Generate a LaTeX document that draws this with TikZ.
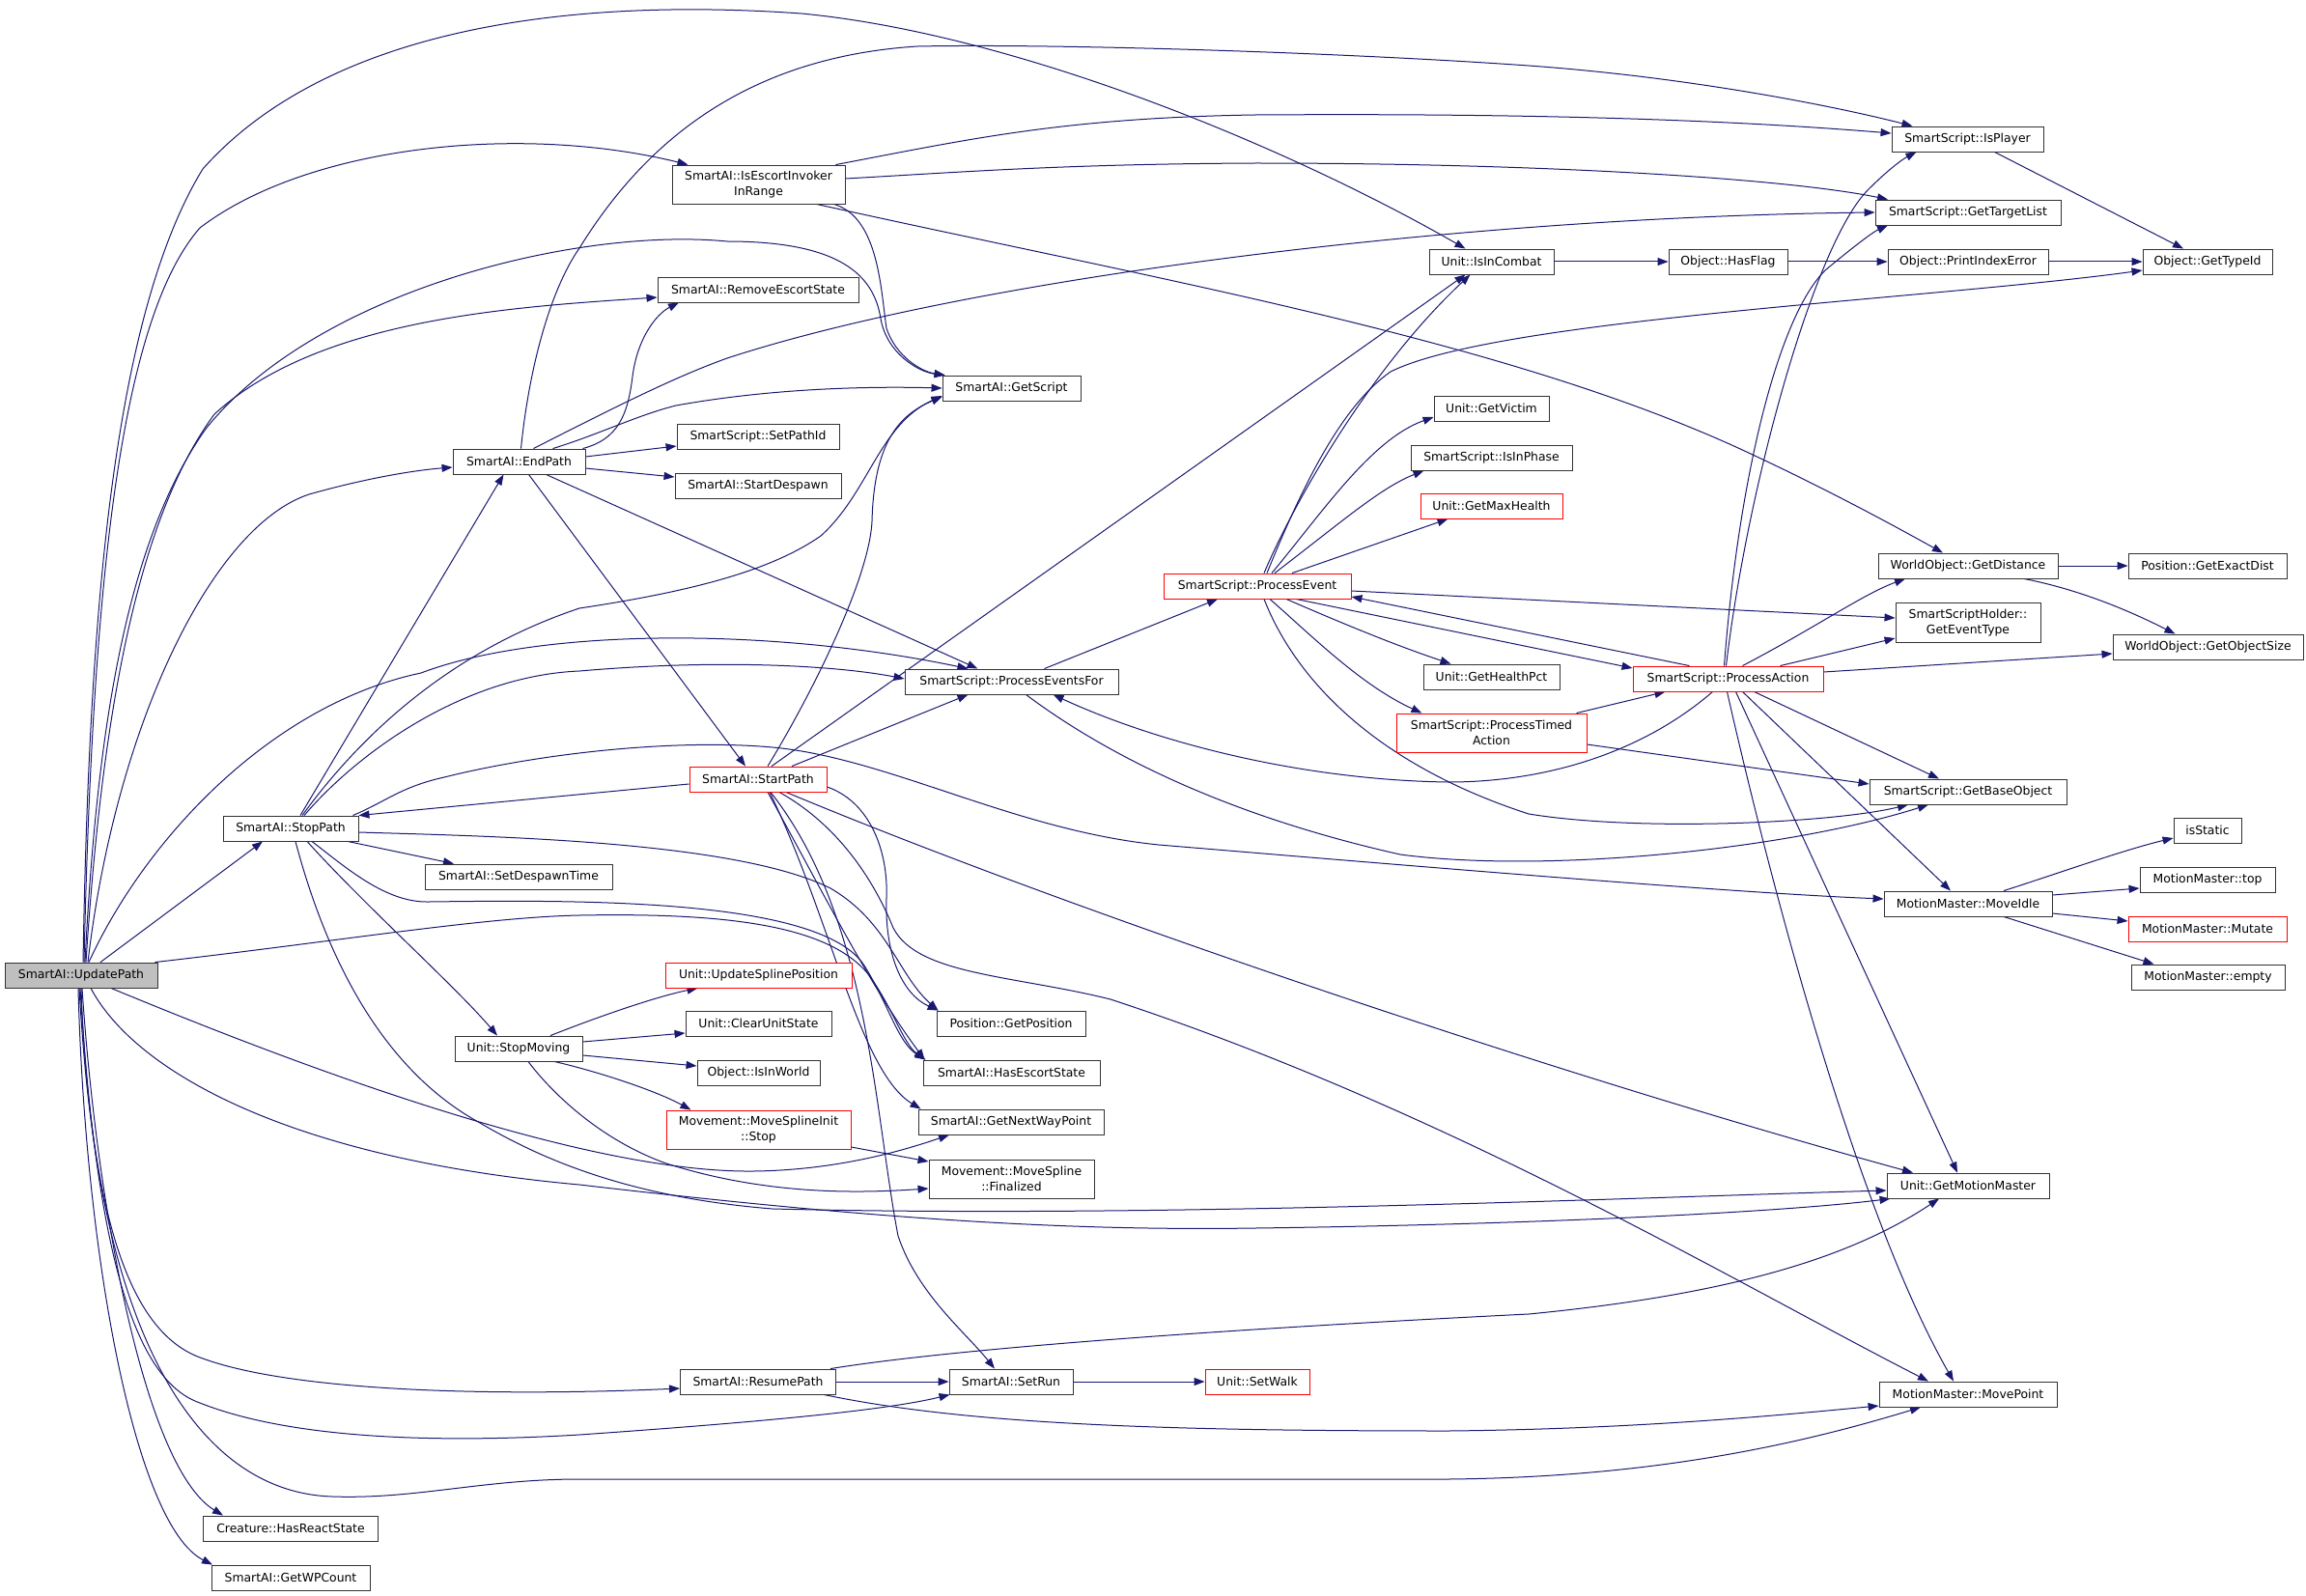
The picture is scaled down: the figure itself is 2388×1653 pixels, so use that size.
\documentclass[tikz,border=0pt]{standalone}
\usepackage{fontspec}
\setmainfont{DejaVu Sans}
\usetikzlibrary{arrows.meta}
\definecolor{edgeblue}{HTML}{191970}
\definecolor{updgray}{HTML}{BFBFBF}
\definecolor{nodered}{HTML}{FF0000}
\pgfdeclarelayer{bgl}
\pgfdeclarelayer{edges}
\pgfsetlayers{bgl,edges,main}
\tikzset{
  fn/.style={draw=black!80, line width=0.9pt, fill=white, inner sep=0pt, minimum height=26pt, align=center, font=\fontsize{12.4}{15.4}\selectfont},
  fnr/.style={fn, draw=nodered},
  e/.style={draw=edgeblue, line width=1pt, -{Triangle[length=11pt,width=8pt]}}
}
\begin{document}
\begin{tikzpicture}[x=1pt,y=-1pt]
\useasboundingbox (0,0) rectangle (2388,1653);
\begin{pgfonlayer}{bgl}
\fill[white] (0,0) rectangle (2388,1653);
\end{pgfonlayer}
% nodes
\node[fn, fill=updgray, minimum width=158pt] (upd) at (84,1010) {SmartAI::UpdatePath};
\node[fn, minimum width=140pt] (stop) at (301,858) {SmartAI::StopPath};
\node[fn, minimum width=137pt] (endp) at (537.5,478) {SmartAI::EndPath};
\node[fn, minimum width=194pt] (despT) at (537,908) {SmartAI::SetDespawnTime};
\node[fn, minimum width=132pt] (stopmv) at (537,1086) {Unit::StopMoving};
\node[fn, minimum width=181pt] (hasreact) at (301,1583) {Creature::HasReactState};
\node[fn, minimum width=164pt] (wpcount) at (301,1634) {SmartAI::GetWPCount};
\node[fn, minimum width=179pt, minimum height=40pt] (iseir) at (785.5,191) {SmartAI::IsEscortInvoker\\InRange};
\node[fn, minimum width=208pt] (remesc) at (785,300) {SmartAI::RemoveEscortState};
\node[fn, minimum width=168pt] (setpath) at (785,452) {SmartScript::SetPathId};
\node[fn, minimum width=172pt] (startdesp) at (785,503) {SmartAI::StartDespawn};
\node[fnr, minimum width=142pt] (startpath) at (785,807) {SmartAI::StartPath};
\node[fnr, minimum width=193pt] (updspline) at (785.5,1010) {Unit::UpdateSplinePosition};
\node[fn, minimum width=151pt] (clearus) at (785.5,1060) {Unit::ClearUnitState};
\node[fn, minimum width=127pt] (isinworld) at (785.5,1111) {Object::IsInWorld};
\node[fnr, minimum width=191pt, minimum height=40pt] (msistop) at (785.5,1170) {Movement::MoveSplineInit\\::Stop};
\node[fn, minimum width=161pt] (resume) at (785,1431) {SmartAI::ResumePath};
\node[fn, minimum width=143pt] (getscript) at (1047.5,402) {SmartAI::GetScript};
\node[fn, minimum width=221pt] (pef) at (1047.5,706) {SmartScript::ProcessEventsFor};
\node[fn, minimum width=154pt] (getpos) at (1047,1060) {Position::GetPosition};
\node[fn, minimum width=183pt] (hasesc) at (1047.5,1111) {SmartAI::HasEscortState};
\node[fn, minimum width=192pt] (nextwp) at (1047,1162) {SmartAI::GetNextWayPoint};
\node[fn, minimum width=171pt, minimum height=40pt] (finalized) at (1047.5,1221) {Movement::MoveSpline\\::Finalized};
\node[fn, minimum width=128pt] (setrun) at (1047,1431) {SmartAI::SetRun};
\node[fnr, minimum width=194pt] (procev) at (1302,607) {SmartScript::ProcessEvent};
\node[fnr, minimum width=108pt] (setwalk) at (1302,1431) {Unit::SetWalk};
\node[fn, minimum width=129pt] (isincombat) at (1544.5,271) {Unit::IsInCombat};
\node[fn, minimum width=119pt] (getvictim) at (1544.5,423) {Unit::GetVictim};
\node[fn, minimum width=167pt] (isinphase) at (1544.5,474) {SmartScript::IsInPhase};
\node[fnr, minimum width=147pt] (getmaxh) at (1544.5,524) {Unit::GetMaxHealth};
\node[fn, minimum width=141pt] (gethp) at (1544.5,701) {Unit::GetHealthPct};
\node[fnr, minimum width=197pt, minimum height=40pt] (ptimed) at (1544.5,759) {SmartScript::ProcessTimed\\Action};
\node[fn, minimum width=123pt] (hasflag) at (1789.5,271) {Object::HasFlag};
\node[fnr, minimum width=197pt] (procact) at (1789.5,703) {SmartScript::ProcessAction};
\node[fn, minimum width=157pt] (isplayer) at (2037.5,144) {SmartScript::IsPlayer};
\node[fn, minimum width=192pt] (gettl) at (2038,220) {SmartScript::GetTargetList};
\node[fn, minimum width=166pt] (printie) at (2038,271) {Object::PrintIndexError};
\node[fn, minimum width=186pt] (getdist) at (2038,586) {WorldObject::GetDistance};
\node[fn, minimum width=150pt, minimum height=41pt] (getevt) at (2038,645) {SmartScriptHolder::\\GetEventType};
\node[fn, minimum width=204pt] (getbase) at (2038,820) {SmartScript::GetBaseObject};
\node[fn, minimum width=174pt] (moveidle) at (2038,936) {MotionMaster::MoveIdle};
\node[fn, minimum width=168pt] (getmm) at (2038,1228) {Unit::GetMotionMaster};
\node[fn, minimum width=184pt] (movepoint) at (2038,1444) {MotionMaster::MovePoint};
\node[fn, minimum width=134pt] (gettypeid) at (2286,271) {Object::GetTypeId};
\node[fn, minimum width=164pt] (exactdist) at (2286,586) {Position::GetExactDist};
\node[fn, minimum width=197pt] (objsize) at (2286.5,670) {WorldObject::GetObjectSize};
\node[fn, minimum width=70pt] (isstatic) at (2286,860) {isStatic};
\node[fn, minimum width=140pt] (mmtop) at (2286,911) {MotionMaster::top};
\node[fnr, minimum width=164pt] (mutate) at (2286,962) {MotionMaster::Mutate};
\node[fn, minimum width=159pt] (mmempty) at (2286.5,1012) {MotionMaster::empty};
% edges
\begin{pgfonlayer}{edges}
% UpdatePath
\draw[e] ([xshift=2pt]upd.north) .. controls (92,650) and (115,330) .. (210,175) .. controls (330,40) and (560,-5) .. (830,14) .. controls (1050,35) and (1330,150) .. ([xshift=-27pt]isincombat.north);
\draw[e] ([xshift=3pt]upd.north) .. controls (96,600) and (125,330) .. (207,236) .. controls (320,150) and (540,128) .. ([xshift=-73pt]iseir.north);
\draw[e] ([xshift=4pt]upd.north) .. controls (100,760) and (130,560) .. (214,443) .. controls (330,300) and (600,235) .. (753,250) .. controls (870,250) and (905,285) .. (912,330) .. controls (918,365) and (950,385) .. ([xshift=3pt]getscript.north west);
\draw[e] ([xshift=5pt]upd.north) .. controls (105,750) and (140,540) .. (222,429) .. controls (330,330) and (530,318) .. ([yshift=-8pt]remesc.west);
\draw[e] ([xshift=7pt]upd.north) .. controls (120,750) and (220,545) .. (320,512) .. controls (380,495) and (430,487) .. ([yshift=-6pt]endp.west);
\draw[e] ([xshift=20pt]upd.north) -- ([xshift=-29pt]stop.south);
\draw[e] ([xshift=8pt]upd.north) .. controls (150,870) and (280,730) .. (436,697) .. controls (560,650) and (800,650) .. ([xshift=-45pt]pef.north);
\draw[e] ([xshift=-3pt]upd.north east) .. controls (350,975) and (500,950) .. (600,948) .. controls (760,945) and (860,960) .. (900,1010) .. controls (925,1045) and (935,1080) .. ([xshift=2pt]hasesc.north west);
\draw[e] ([xshift=31pt]upd.south) .. controls (300,1100) and (600,1215) .. (780,1213) .. controls (870,1212) and (940,1190) .. ([xshift=-64pt]nextwp.south);
\draw[e] ([xshift=10pt]upd.south) .. controls (140,1110) and (300,1200) .. (600,1227) .. controls (900,1262) and (1100,1275) .. (1300,1272) .. controls (1600,1268) and (1850,1255) .. ([xshift=4pt]getmm.south west);
\draw[e] ([xshift=-2pt]upd.south) .. controls (95,1250) and (130,1380) .. (210,1407) .. controls (300,1440) and (500,1447) .. ([yshift=-7pt]resume.west);
\draw[e] ([xshift=-1pt]upd.south) .. controls (100,1300) and (140,1430) .. (207,1453) .. controls (300,1490) and (450,1495) .. (600,1486) .. controls (800,1472) and (920,1460) .. ([xshift=1pt]setrun.south west);
\draw[e] (upd.south) .. controls (95,1350) and (190,1545) .. (344,1550) .. controls (430,1553) and (500,1532) .. (600,1532) -- (1500,1532) .. controls (1700,1530) and (1850,1500) .. ([xshift=-49pt]movepoint.south);
\draw[e] ([xshift=1pt]upd.south) .. controls (100,1250) and (150,1520) .. ([xshift=-70pt]hasreact.north);
\draw[e] ([xshift=-3pt]upd.south) .. controls (88,1300) and (140,1580) .. ([xshift=-81pt]wpcount.north);
% StopPath
\draw[e] ([xshift=10pt]stop.north) -- ([xshift=-16pt]endp.south);
\draw[e] ([xshift=12pt]stop.north) .. controls (360,780) and (450,680) .. (600,630) .. controls (720,612) and (800,590) .. (850,555) .. controls (900,510) and (910,440) .. ([yshift=-8pt]getscript.west);
\draw[e] ([xshift=14pt]stop.north) .. controls (370,780) and (480,700) .. (600,695) .. controls (750,682) and (870,690) .. ([yshift=3pt]pef.west);
\draw[e] ([xshift=-6pt]stop.north east) .. controls (400,830) and (415,815) .. (460,805) .. controls (560,780) and (700,765) .. (800,774) .. controls (920,785) and (1050,860) .. (1200,875) .. controls (1500,900) and (1800,925) .. ([yshift=5pt]moveidle.west);
\draw[e] ([xshift=59pt]stop.south) -- ([xshift=-67pt]despT.north);
\draw[e] ([xshift=17pt]stop.south) .. controls (380,940) and (470,1020) .. ([xshift=-22pt]stopmv.north);
\draw[e] ([xshift=5pt]stop.south) .. controls (340,1000) and (400,1110) .. (497,1163) .. controls (560,1200) and (650,1240) .. (800,1252) .. controls (1200,1262) and (1700,1240) .. ([yshift=-5pt]getmm.west);
\draw[e] ([yshift=-4pt]stop.east) .. controls (500,866) and (760,870) .. (860,920) .. controls (920,955) and (930,1010) .. ([xshift=2pt]getpos.north west);
\draw[e] ([xshift=22pt]stop.south) .. controls (360,900) and (400,935) .. (444,934) .. controls (600,932) and (850,930) .. (895,1000) .. controls (920,1040) and (930,1080) .. ([xshift=3pt]hasesc.north west);
% StartPath
\draw[e] ([yshift=-5pt]startpath.west) -- (stop.north east);
\draw[e] ([xshift=14pt]startpath.north) -- ([xshift=-27pt]isincombat.south);
\draw[e] ([xshift=10pt]startpath.north) .. controls (840,720) and (900,600) .. (903,540) .. controls (905,460) and (930,430) .. ([yshift=-9pt]getscript.west);
\draw[e] ([xshift=35pt]startpath.north) -- ([xshift=-45pt]pef.south);
\draw[e] ([yshift=-8pt]startpath.east) .. controls (900,830) and (920,880) .. (918,930) .. controls (916,990) and (935,1030) .. ([xshift=2pt]getpos.north west);
\draw[e] ([xshift=10pt]startpath.south) .. controls (850,920) and (900,1020) .. ([xshift=2pt]hasesc.north west);
\draw[e] ([xshift=12pt]startpath.south) .. controls (860,950) and (890,1110) .. ([xshift=3pt]nextwp.north west);
\draw[e] ([xshift=13pt]startpath.south) .. controls (900,950) and (905,1150) .. (930,1280) .. controls (950,1340) and (1000,1380) .. ([xshift=-17pt]setrun.north);
\draw[e] ([xshift=29pt]startpath.south) .. controls (1100,940) and (1600,1110) .. ([xshift=-57pt]getmm.north);
\draw[e] ([xshift=22pt]startpath.south) .. controls (860,850) and (900,900) .. (925,961) .. controls (950,1010) and (1050,1010) .. (1150,1035) .. controls (1500,1150) and (1800,1330) .. ([xshift=-41pt]movepoint.north);
% EndPath
\draw[e] ([xshift=2pt]endp.north) .. controls (548,380) and (570,300) .. (600,257) .. controls (660,160) and (760,60) .. (950,48) .. controls (1100,45) and (1400,55) .. (1583,68) .. controls (1750,80) and (1900,110) .. ([xshift=-57pt]isplayer.north);
\draw[e] ([xshift=15pt]endp.north) .. controls (640,420) and (700,390) .. (753,371) .. controls (1000,290) and (1500,225) .. (gettl.west);
\draw[e] ([xshift=35pt]endp.north) .. controls (620,450) and (660,430) .. (700,420) .. controls (800,402) and (900,400) .. (getscript.west);
\draw[e] ([xshift=-3pt]endp.north east) .. controls (640,455) and (650,430) .. (655,390) .. controls (660,350) and (680,325) .. ([xshift=-82pt]remesc.south);
\draw[e] ([yshift=5pt]endp.east) -- ([yshift=-10pt]setpath.west);
\draw[e] ([yshift=-7pt]endp.east) -- ([yshift=9pt]startdesp.west);
\draw[e] ([xshift=28pt]endp.south) -- ([xshift=-35pt]pef.north);
\draw[e] ([xshift=10pt]endp.south) -- ([xshift=-13pt]startpath.north);
% IsEscortInvokerInRange
\draw[e] ([xshift=-10pt]iseir.north east) .. controls (1000,145) and (1100,122) .. (1300,119) .. controls (1600,117) and (1800,125) .. ([yshift=6pt]isplayer.west);
\draw[e] ([yshift=6pt]iseir.east) .. controls (1000,178) and (1100,170) .. (1300,169) .. controls (1600,169) and (1850,185) .. ([xshift=-83pt]gettl.north);
\draw[e] ([xshift=78pt]iseir.south) .. controls (910,225) and (912,300) .. (918,340) .. controls (928,370) and (955,385) .. ([xshift=3pt]getscript.north west);
\draw[e] ([xshift=60pt]iseir.south) .. controls (1200,290) and (1550,350) .. (1800,464) .. controls (1900,510) and (1980,555) .. ([xshift=-26pt]getdist.north);
% ProcessEventsFor
\draw[e] ([xshift=34pt]pef.north) -- ([xshift=-41pt]procev.south);
\draw[e] ([xshift=15pt]pef.south) .. controls (1130,770) and (1250,840) .. (1450,885) .. controls (1600,905) and (1850,880) .. ([xshift=-41pt]getbase.south);
% ProcessEvent
\draw[e] ([xshift=7pt]procev.north) .. controls (1340,520) and (1420,380) .. ([xshift=-22pt]isincombat.south);
\draw[e] ([xshift=10pt]procev.north) .. controls (1350,500) and (1390,420) .. (1440,385) .. controls (1550,330) and (2000,310) .. ([yshift=-9pt]gettypeid.west);
\draw[e] ([xshift=15pt]procev.north) .. controls (1370,530) and (1420,455) .. ([yshift=-9pt]getvictim.west);
\draw[e] ([xshift=18pt]procev.north) .. controls (1390,540) and (1430,505) .. ([xshift=-70pt]isinphase.south);
\draw[e] ([xshift=36pt]procev.north) -- ([xshift=-45pt]getmaxh.south);
\draw[e] ([yshift=-5pt]procev.east) -- ([yshift=5pt]getevt.west);
\draw[e] ([xshift=30pt]procev.south) .. controls (1400,650) and (1450,670) .. ([xshift=-42pt]gethp.north);
\draw[e] ([xshift=40pt]procev.south) -- ([yshift=11pt]procact.west);
\draw[e] ([xshift=13pt]procev.south) .. controls (1360,660) and (1410,710) .. ([xshift=-72pt]ptimed.north);
\draw[e] ([xshift=7pt]procev.south) .. controls (1340,700) and (1420,790) .. (1583,843) .. controls (1700,862) and (1900,852) .. ([xshift=-62pt]getbase.south);
% ProcessAction
\draw[e] ([xshift=-40pt]procact.north) -- ([yshift=-11pt]procev.east);
\draw[e] ([xshift=-16pt]procact.south) .. controls (1700,780) and (1600,810) .. (1500,810) .. controls (1350,808) and (1200,770) .. ([xshift=43pt]pef.south);
\draw[e] ([xshift=-2pt]procact.north) .. controls (1810,500) and (1880,250) .. (1935,196) .. controls (1955,176) and (1970,165) .. ([xshift=-53pt]isplayer.south);
\draw[e] ([xshift=-4pt]procact.north) .. controls (1800,500) and (1840,330) .. (1890,280) .. controls (1920,255) and (1940,240) .. ([xshift=-83pt]gettl.south);
\draw[e] ([xshift=15pt]procact.north) .. controls (1880,650) and (1930,615) .. ([xshift=-65pt]getdist.south);
\draw[e] ([xshift=54pt]procact.north) -- ([yshift=-16pt]getevt.west);
\draw[e] ([yshift=7pt]procact.east) -- ([yshift=-7pt]objsize.west);
\draw[e] ([xshift=27pt]procact.south) -- ([xshift=-30pt]getbase.north);
\draw[e] ([xshift=15pt]procact.south) -- ([xshift=-18pt]moveidle.north);
\draw[e] ([xshift=8pt]procact.south) -- ([xshift=-11pt]getmm.north);
\draw[e] ([xshift=-1pt]procact.south) .. controls (1830,900) and (1920,1250) .. ([xshift=-15pt]movepoint.north);
% ProcessTimedAction
\draw[e] ([xshift=88pt]ptimed.north) -- ([xshift=-65pt]procact.south);
\draw[e] ([yshift=-12pt]ptimed.east) -- ([yshift=8pt]getbase.west);
% others
\draw[e] (isincombat) -- (hasflag);
\draw[e] (hasflag) -- (printie);
\draw[e] (printie) -- (gettypeid);
\draw[e] ([xshift=28pt]isplayer.south) -- ([xshift=-25pt]gettypeid.north);
\draw[e] (getdist) -- (exactdist);
\draw[e] ([xshift=58pt]getdist.south) .. controls (2150,610) and (2200,630) .. ([xshift=-34pt]objsize.north);
\draw[e] ([xshift=37pt]moveidle.north) .. controls (2130,905) and (2200,880) .. ([yshift=-8pt]isstatic.west);
\draw[e] ([yshift=9pt]moveidle.east) -- ([yshift=-9pt]mmtop.west);
\draw[e] ([yshift=-10pt]moveidle.east) -- ([yshift=8pt]mutate.west);
\draw[e] ([xshift=37pt]moveidle.south) -- ([xshift=-56pt]mmempty.north);
\draw[e] ([xshift=33pt]stopmv.north) .. controls (640,1045) and (690,1030) .. ([xshift=-63pt]updspline.south);
\draw[e] ([yshift=7pt]stopmv.east) -- ([yshift=-10pt]clearus.west);
\draw[e] ([yshift=-7pt]stopmv.east) -- ([yshift=7pt]isinworld.west);
\draw[e] ([xshift=37pt]stopmv.south) .. controls (620,1110) and (680,1130) .. ([xshift=-70pt]msistop.north);
\draw[e] ([xshift=10pt]stopmv.south) .. controls (570,1130) and (620,1180) .. (690,1205) .. controls (800,1240) and (900,1235) .. ([yshift=-10pt]finalized.west);
\draw[e] ([yshift=-18pt]msistop.east) -- ([yshift=18pt]finalized.west);
\draw[e] (resume) -- (setrun);
\draw[e] ([xshift=68pt]resume.south) .. controls (1000,1475) and (1200,1482) .. (1500,1482) .. controls (1700,1480) and (1850,1465) .. ([yshift=-12pt]movepoint.west);
\draw[e] ([xshift=75pt]resume.north) .. controls (1000,1395) and (1300,1375) .. (1583,1361) .. controls (1800,1340) and (1920,1300) .. ([xshift=-30pt]getmm.south);
\draw[e] (setrun) -- (setwalk);
\end{pgfonlayer}
\end{tikzpicture}
\end{document}
